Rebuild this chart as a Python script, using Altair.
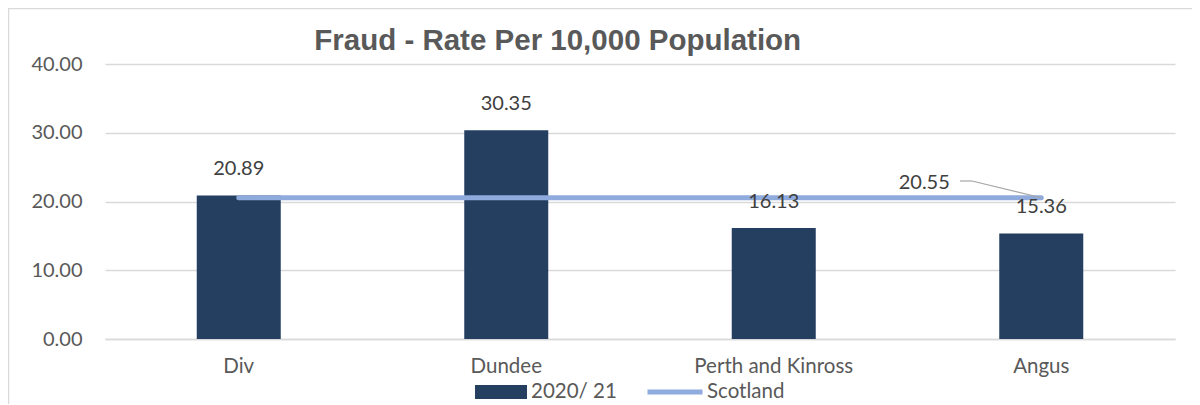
import altair as alt
import pandas as pd

categories = ["Div", "Dundee", "Perth and Kinross", "Angus"]
rate_2020_21 = [20.89, 30.35, 16.13, 15.36]
scotland_rate = [20.55, 20.55, 20.55, 20.55]
series_names = ["2020/ 21", "Scotland"]
y_ticks = [0, 10, 20, 30, 40]

df = pd.DataFrame({
    "cat": categories,
    "rate": rate_2020_21,
    "scot": scotland_rate,
    "s1": series_names[0],
    "s2": series_names[1],
})

FONT = "Lato"
GRID = "#d9d9d9"
AXIS_TXT = "#595959"
LBL_TXT = "#404040"
BAR = "#243F60"
LINE = "#8FAADC"

x_scale = alt.Scale(paddingInner=0.686, paddingOuter=0.343)
y_scale = alt.Scale(domain=[0, 40], nice=False)

x_ax = alt.Axis(labelAngle=0, labelFontSize=20.5, labelColor=AXIS_TXT,
                labelFont=FONT, labelPadding=17, ticks=False,
                domainColor=GRID, domainWidth=1.5, grid=False)
y_ax = alt.Axis(values=y_ticks, format=".2f", labelFontSize=20,
                labelColor=AXIS_TXT, labelFont=FONT, labelPadding=23,
                ticks=False, domain=False, gridColor=GRID, gridWidth=1.5)

x_enc = alt.X("cat:N", sort=categories, title=None, scale=x_scale, axis=x_ax)


def y_enc(field):
    return alt.Y(field, scale=y_scale, title=None, axis=y_ax)


bars = alt.Chart(df).mark_bar().encode(
    x=x_enc,
    y=y_enc("rate:Q"),
    color=alt.Color("s1:N", scale=alt.Scale(domain=[series_names[0]], range=[BAR]),
                    legend=alt.Legend(title=None, orient="none", legendX=370, legendY=302,
                                      symbolType="M-1,-0.27H1V0.27H-1Z", symbolSize=2704,
                                      symbolStrokeWidth=0, labelFontSize=20.5,
                                      labelColor=AXIS_TXT, labelFont=FONT)),
)

line = alt.Chart(df).mark_line(strokeWidth=5, strokeCap="round").encode(
    x=x_enc,
    y=y_enc("scot:Q"),
    stroke=alt.Stroke("s2:N", scale=alt.Scale(domain=[series_names[1]], range=[LINE]),
                      legend=alt.Legend(title=None, orient="none", legendX=540, legendY=298,
                                        symbolType="M-1,0H1", symbolSize=3025,
                                        symbolStrokeWidth=5, labelFontSize=20.5,
                                        labelOffset=2,
                                        labelColor=AXIS_TXT, labelFont=FONT)),
)

bar_labels = alt.Chart(df).mark_text(dy=-26, fontSize=20, color=LBL_TXT, font=FONT).encode(
    x=x_enc,
    y=y_enc("rate:Q"),
    text=alt.Text("rate:Q", format=".2f"),
)

angus = alt.Chart(df).transform_filter(alt.datum.cat == "Angus")

scot_label = angus.mark_text(dx=-117, dy=-15, fontSize=20, color=LBL_TXT, font=FONT).encode(
    x=x_enc,
    y=y_enc("scot:Q"),
    text=alt.Text("scot:Q", format=".2f"),
)

leader_diag = angus.mark_rule(color="#a6a6a6", strokeWidth=1.2).encode(
    x=x_enc,
    y=y_enc("scot:Q"),
    x2=alt.value(867),
    y2=alt.value(117),
)

one = alt.Chart(pd.DataFrame({"k": [0]}))
leader_h = one.mark_rule(color="#a6a6a6", strokeWidth=1.2).encode(
    x=alt.value(855), x2=alt.value(867), y=alt.value(117))
frame_top = one.mark_rule(color=GRID, strokeWidth=1.5).encode(
    x=alt.value(-97), x2=alt.value(1090), y=alt.value(-55.5))
frame_left = one.mark_rule(color=GRID, strokeWidth=1.5).encode(
    x=alt.value(-96.5), y=alt.value(-56), y2=alt.value(340))

chart = alt.layer(
    frame_top, frame_left, bars, line, bar_labels, scot_label, leader_h, leader_diag
).properties(
    width=1070,
    height=275,
    padding={"left": 97, "top": 56, "right": 17, "bottom": 66},
    autosize=alt.AutoSizeParams(type="none"),
    title=alt.TitleParams("Fraud - Rate Per 10,000 Population", font="Liberation Sans",
                          fontSize=29.5, fontWeight="bold", color=AXIS_TXT,
                          anchor="start", dx=307, dy=57, offset=8),
).configure_view(stroke=None)

chart.save("out.html", embed_options={"renderer": "svg", "actions": False})
